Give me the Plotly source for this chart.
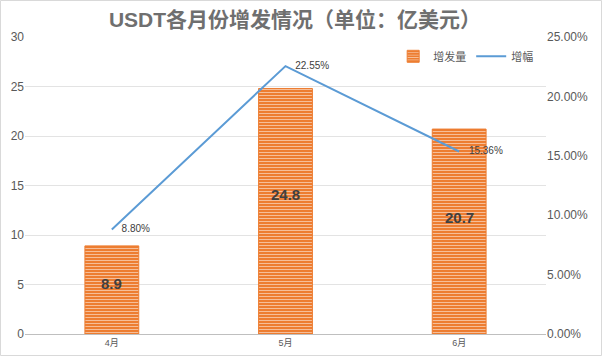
import plotly.graph_objects as go

months = ["4月", "5月", "6月"]
issuance = [8.9, 24.8, 20.7]
growth = [0.088, 0.2255, 0.1536]
growth_labels = ["8.80%", "22.55%", "15.36%"]
bar_labels = ["8.9", "24.8", "20.7"]

FONT = "Liberation Sans, Arial, Noto Sans CJK SC, sans-serif"
ORANGE = "#ED7D31"
BLUE = "#5B9BD5"

fig = go.Figure()
fig.add_trace(go.Bar(
    x=months, y=issuance, name="增发量",
    marker=dict(color=ORANGE, line=dict(color=ORANGE, width=1),
                pattern=dict(shape="-", fgcolor="#FFFFFF", bgcolor=ORANGE, size=3, solidity=0.35, fillmode="overlay")),
    hoverinfo="skip",
))
fig.add_trace(go.Scatter(
    x=months, y=growth, name="增幅", yaxis="y2", mode="lines+markers+text",
    line=dict(color=BLUE, width=2),
    marker=dict(size=14, color="rgba(0,0,0,0)"),
    text=growth_labels, textposition="middle right",
    textfont=dict(size=10, color="#404040", family=FONT),
))

for m, v, t in zip(months, issuance, bar_labels):
    fig.add_annotation(x=m, y=v * 0.57, text="<b>" + t + "</b>", showarrow=False,
                       font=dict(size=15, color="#404040", family=FONT))

fig.update_layout(
    width=602, height=356,
    margin=dict(l=25, r=56, t=37, b=22, autoexpand=False),
    paper_bgcolor="white", plot_bgcolor="white",
    font=dict(family=FONT, color="#595959"),
    title=dict(text="<b>USDT各月份增发情况（单位：亿美元）</b>", x=0.49, xanchor="center",
               y=0.945, yanchor="middle",
               font=dict(size=21, color="#6F6F6F", family="Liberation Sans, Noto Sans CJK SC, sans-serif")),
    bargap=0.69,
    showlegend=True,
    legend=dict(orientation="h", x=0.985, xanchor="right", y=0.935, yanchor="middle",
                font=dict(size=11, color="#595959"), bgcolor="rgba(0,0,0,0)",
                itemwidth=30, tracegroupgap=0),
    xaxis=dict(showgrid=False, showline=True, linecolor="#BFBFBF", linewidth=1, automargin=False,
               ticks="", tickfont=dict(size=9, color="#595959"), fixedrange=True),
    yaxis=dict(range=[0, 30], dtick=5, showgrid=True, gridcolor="#E3E3E3", gridwidth=1, automargin=False,
               zeroline=False, tickfont=dict(size=12, color="#595959")),
    yaxis2=dict(range=[0, 0.25], dtick=0.05, tickformat=".2%", overlaying="y", side="right", automargin=False,
                showgrid=False, zeroline=False, tickfont=dict(size=12, color="#595959")),
    shapes=[dict(type="rect", xref="paper", yref="paper",
                 x0=(0.5 - 25) / 521, x1=(601.5 - 25) / 521,
                 y0=(334 - 355.5) / 297, y1=(334 - 0.5) / 297,
                 line=dict(color="#D9D9D9", width=1))],
)

fig.write_html("out.html", config={"displayModeBar": False},
               post_script="document.body.style.margin='0';")
